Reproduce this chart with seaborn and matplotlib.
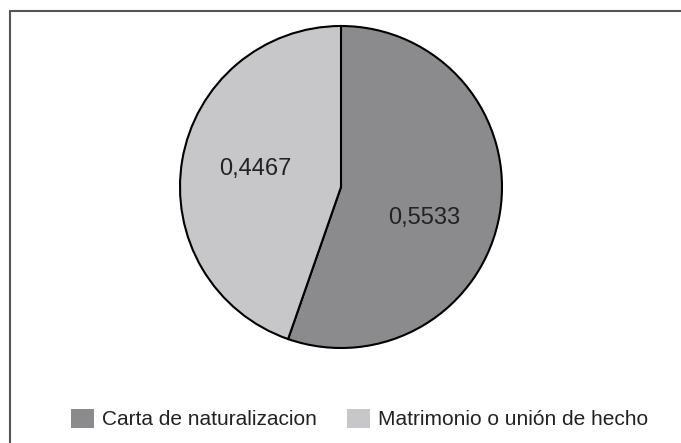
import matplotlib.pyplot as plt
import seaborn as sns
from matplotlib.lines import Line2D

# Data
categories = ["Carta de naturalizacion", "Matrimonio o unión de hecho"]
shares = [0.5533, 0.4467]
value_labels = ["0,5533", "0,4467"]
colors = ["#8b8b8e", "#c7c7c9"]

sns.set_style("white")
plt.rcParams['font.family'] = ['Liberation Sans', 'DejaVu Sans']

fig = plt.figure(figsize=(6.81, 4.43), dpi=100)
ax = fig.add_axes([180 / 681, 95 / 443, 322 / 681, 322 / 443])

wedges, _ = ax.pie(shares, colors=colors, startangle=90, counterclock=False,
                   wedgeprops=dict(edgecolor="black", linewidth=1.5))
for w in wedges:
    w.set_clip_on(False)
ax.set_xlim(-1, 1)
ax.set_ylim(-1, 1)
ax.set_aspect("equal")
ax.axis("off")

# value labels (placed inside the slices, like the original)
label_pos = [(0.519, -0.19), (-0.534, 0.112)]
for txt, (x, y) in zip(value_labels, label_pos):
    ax.text(x, y, txt, ha="center", va="center", fontsize=17, color="#222222")

# legend
fig.legend(wedges, categories, loc="center", bbox_to_anchor=(359.5 / 681, 1 - 419 / 443),
           ncol=2, frameon=False, fontsize=15, handlelength=1.1, handleheight=1.05,
           handletextpad=0.4, columnspacing=1.45, labelcolor="#222222")
for h in fig.legends[0].legend_handles:
    h.set_edgecolor("none")

# partial frame: top and left edges only
fig.add_artist(Line2D([10 / 681, 1], [1 - 11 / 443, 1 - 11 / 443], color="#555555", linewidth=1.5))
fig.add_artist(Line2D([10 / 681, 10 / 681], [0, 1 - 11 / 443], color="#555555", linewidth=1.5))

fig.savefig("out.png", dpi=100)
